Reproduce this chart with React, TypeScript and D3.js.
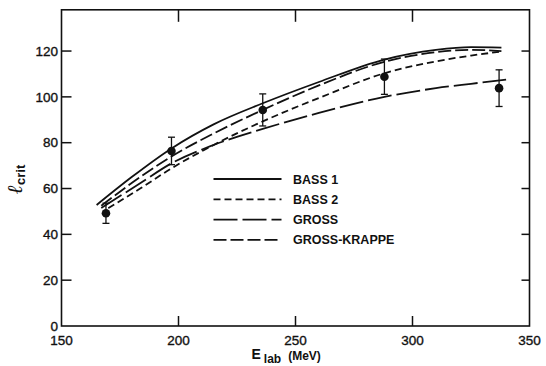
import React from "react";
import * as d3 from "d3";

const xTicks = [150, 200, 250, 300, 350];
const yTicks = [0, 20, 40, 60, 80, 100, 120];

const pointE = [169, 197, 236, 288, 337];
const pointL = [49.2, 76.4, 94.3, 108.8, 103.8];
const pointErr = [4.4, 6, 7, 7.7, 8];

const bass1E = [165, 180, 197, 215, 236, 260, 288, 310, 325, 338];
const bass1L = [52.8, 65, 77.5, 88, 97.2, 106.5, 116.3, 120.5, 121.7, 121.5];

const bass2E = [170, 183.6, 197, 215, 236, 260, 288, 310, 325, 338];
const bass2L = [51.4, 60, 68.8, 79, 89.3, 99.5, 110.3, 115.5, 118, 119.8];

const grossE = [167, 183.6, 197, 215, 236, 260, 288, 310, 325, 340];
const grossL = [51.5, 62.3, 71, 79, 86, 93, 100, 103.8, 105.7, 107.5];

const gkE = [167, 183.6, 197, 215, 236, 260, 288, 310, 325, 338];
const gkL = [52.5, 65, 74, 84, 94.3, 105, 115.3, 119.5, 120.5, 120];

const legendLabels = ["BASS 1", "BASS 2", "GROSS", "GROSS-KRAPPE"];
const dashes = ["none", "7,4", "24,5", "13,4"];

const W = 546;
const H = 366;

export default function App() {
  const x = d3.scaleLinear().domain([150, 350]).range([61.5, 529.5]);
  const y = d3.scaleLinear().domain([0, 138]).range([326, 9.8]);
  const line = d3
    .line<[number, number]>()
    .x((d) => x(d[0]))
    .y((d) => y(d[1]))
    .curve(d3.curveMonotoneX);

  const series = [
    [bass1E, bass1L],
    [bass2E, bass2L],
    [grossE, grossL],
    [gkE, gkL],
  ];

  const font = "'Liberation Sans', Arial, sans-serif";
  const stroke = "#111";

  return (
    <div style={{ position: "absolute", left: 0, top: 0 }}>
      <svg width={W} height={H} style={{ display: "block", background: "#fff" }}>
        {/* frame */}
        <rect
          x={x(150)}
          y={y(138)}
          width={x(350) - x(150)}
          height={y(0) - y(138)}
          fill="none"
          stroke={stroke}
          strokeWidth={1.6}
        />
        {/* x ticks bottom and top */}
        {xTicks.map((t) => (
          <g key={"xt" + t}>
            {t > 150 && t < 350 && (
              <>
                <line x1={x(t)} x2={x(t)} y1={y(0)} y2={y(0) - 10} stroke={stroke} strokeWidth={1.5} />
                <line x1={x(t)} x2={x(t)} y1={y(138)} y2={y(138) + 12} stroke={stroke} strokeWidth={1.5} />
              </>
            )}
            <text
              x={x(t)}
              y={345}
              textAnchor="middle"
              fontFamily={font}
              fontSize={13.5}
              fill={stroke}
              stroke={stroke}
              strokeWidth={0.35}
            >
              {t}
            </text>
          </g>
        ))}
        {/* y ticks left and right */}
        {yTicks.map((t) => (
          <g key={"yt" + t}>
            {t > 0 && (
              <>
                <line x1={x(150)} x2={x(150) + 10} y1={y(t)} y2={y(t)} stroke={stroke} strokeWidth={1.5} />
                <line x1={x(350)} x2={x(350) - 8} y1={y(t)} y2={y(t)} stroke={stroke} strokeWidth={1.5} />
              </>
            )}
            <text
              x={58}
              y={y(t) + 4.8}
              textAnchor="end"
              fontFamily={font}
              fontSize={13.5}
              fill={stroke}
              stroke={stroke}
              strokeWidth={0.35}
            >
              {t}
            </text>
          </g>
        ))}
        {/* curves */}
        {series.map((s, i) => (
          <path
            key={"s" + i}
            d={line(s[0].map((e, j) => [e, s[1][j]] as [number, number])) || ""}
            fill="none"
            stroke={stroke}
            strokeWidth={1.8}
            strokeDasharray={dashes[i]}
          />
        ))}
        {/* data points */}
        {pointE.map((e, i) => (
          <g key={"p" + i}>
            <line
              x1={x(e)}
              x2={x(e)}
              y1={y(pointL[i] - pointErr[i])}
              y2={y(pointL[i] + pointErr[i])}
              stroke={stroke}
              strokeWidth={1.3}
            />
            <line
              x1={x(e) - 3.5}
              x2={x(e) + 3.5}
              y1={y(pointL[i] - pointErr[i])}
              y2={y(pointL[i] - pointErr[i])}
              stroke={stroke}
              strokeWidth={1.3}
            />
            <line
              x1={x(e) - 3.5}
              x2={x(e) + 3.5}
              y1={y(pointL[i] + pointErr[i])}
              y2={y(pointL[i] + pointErr[i])}
              stroke={stroke}
              strokeWidth={1.3}
            />
            <circle cx={x(e)} cy={y(pointL[i])} r={4.3} fill={stroke} />
          </g>
        ))}
        {/* legend */}
        {legendLabels.map((lab, i) => {
          const ly = 179 + i * 20.3;
          return (
            <g key={"l" + i}>
              <line
                x1={213.5}
                x2={281.5}
                y1={ly}
                y2={ly}
                stroke={stroke}
                strokeWidth={1.8}
                strokeDasharray={dashes[i]}
              />
              <text
                x={293}
                y={ly + 4.5}
                fontFamily={font}
                fontSize={12.5}
                fontWeight="bold"
                fill={stroke}
              >
                {lab}
              </text>
            </g>
          );
        })}
        {/* x axis label */}
        <text x={251.5} y={359} fontFamily={font} fontSize={14} fontWeight="bold" fill={stroke}>
          E
          <tspan fontSize={12} dx={3} dy={4}>lab</tspan>
          <tspan fontSize={12} dx={7} dy={-3}>(MeV)</tspan>
        </text>
        {/* y axis label */}
        <text
          transform="translate(22,194) rotate(-90)"
          fontFamily="'DejaVu Serif', serif"
          fill={stroke}
        >
          <tspan fontSize={21} fontStyle="italic" fontWeight="bold">ℓ</tspan>
          <tspan fontFamily={font} fontSize={13} fontWeight="bold" dy={3}>crit</tspan>
        </text>
      </svg>
    </div>
  );
}
